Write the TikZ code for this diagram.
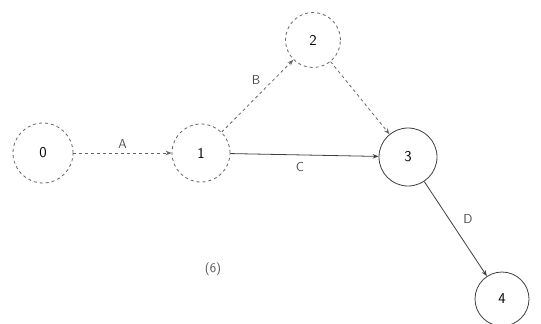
\documentclass[tikz,border=0pt]{standalone}
\usepackage{tikz}
\usetikzlibrary{positioning, arrows.meta}
\tikzset{
	eventnode/.style={
			circle,
			draw=black!75,
			thick,
			fill=white,
			minimum size=58pt,
			inner sep=0pt,
			font=\sffamily\fontsize{15}{17}\selectfont
		},
	faintnode/.style={
			eventnode,
			draw=black!60,
			dashed
		},
	activity/.style={
			thick,
			draw=black!75,
			-{Stealth[length=6pt]}
		},
	dummy/.style={
			activity,
			dashed,
			draw=black!60
		},
	actlabel/.style={
			font=\sffamily\fontsize{13}{15}\selectfont,
			text=black!70
		}
}

\begin{document}
\begin{tikzpicture}[x=1pt, y=-1pt]
\useasboundingbox (0,0) rectangle (541,324);
\node[faintnode, minimum size=60pt] (n0) at (43,153)  { 0 };
\node[faintnode] (n1) at (201,153)  { 1 };
\node[faintnode, minimum size=55pt] (n2) at (313,40)  { 2 };
\node[eventnode] (n3) at (408,157)  { 3 };
\node[eventnode, minimum size=54pt] (n4) at (502,299)  { 4 };

\draw[dummy] (n0) -- node[actlabel, above=1pt] {A} (n1);
\draw[dummy] (n1) -- node[actlabel, above left=1pt, pos=0.6] {B} (n2);
\draw[activity] (n1) -- node[actlabel, below=4pt, pos=0.47] {C} (n3);
\draw[dummy] (n2) -- (n3);
\draw[activity] (n3) -- node[actlabel, above right=2pt and 4pt] {D} (n4);

\node[actlabel] (cap) at (213,269) {(6)};
\end{tikzpicture}
\end{document}
